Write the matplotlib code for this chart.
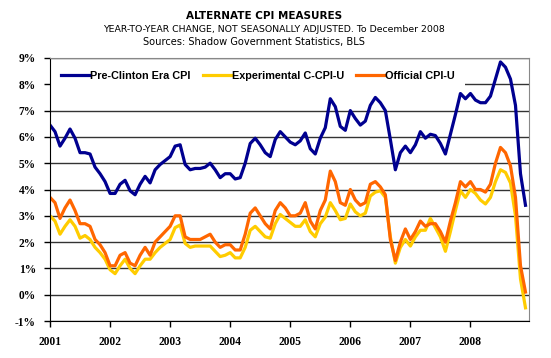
import matplotlib
matplotlib.use('Agg')
import matplotlib.pyplot as plt

# monthly year-to-year change, Jan 2001 .. Dec 2008
years = ['2001', '2002', '2003', '2004', '2005', '2006', '2007', '2008']

pre_clinton = [6.45, 6.2, 5.65, 5.95, 6.3, 5.95, 5.4, 5.4, 5.35, 4.85, 4.6, 4.3,
               3.85, 3.85, 4.2, 4.35, 3.95, 3.8, 4.2, 4.5, 4.25, 4.75, 4.95, 5.1,
               5.25, 5.65, 5.7, 4.95, 4.75, 4.8, 4.8, 4.85, 5.0, 4.75, 4.45, 4.6,
               4.6, 4.4, 4.45, 5.0, 5.75, 5.95, 5.7, 5.4, 5.25, 5.9, 6.2, 6.0,
               5.8, 5.7, 5.85, 6.15, 5.55, 5.35, 5.95, 6.35, 7.45, 7.15, 6.4, 6.25,
               7.0, 6.7, 6.45, 6.6, 7.2, 7.5, 7.3, 7.0, 5.9, 4.75, 5.4, 5.65,
               5.4, 5.7, 6.2, 5.95, 6.1, 6.05, 5.75, 5.35, 6.1, 6.85, 7.65, 7.45,
               7.65, 7.4, 7.3, 7.3, 7.55, 8.2, 8.85, 8.65, 8.2, 7.2, 4.6, 3.4]

chained = [3.0, 2.8, 2.3, 2.6, 2.85, 2.6, 2.15, 2.25, 2.1, 1.8, 1.6, 1.35,
           0.95, 0.8, 1.1, 1.35, 1.0, 0.8, 1.1, 1.35, 1.35, 1.6, 1.8, 1.95,
           2.1, 2.55, 2.65, 1.95, 1.8, 1.85, 1.85, 1.85, 1.85, 1.65, 1.45, 1.5,
           1.6, 1.4, 1.4, 1.8, 2.45, 2.6, 2.4, 2.2, 2.15, 2.7, 3.05, 2.9,
           2.75, 2.6, 2.6, 2.85, 2.4, 2.2, 2.7, 2.95, 3.5, 3.2, 2.85, 2.9,
           3.45, 3.15, 3.0, 3.1, 3.75, 3.9, 3.95, 3.7, 2.2, 1.2, 1.8, 2.1,
           1.85, 2.2, 2.45, 2.45, 2.9, 2.55, 2.2, 1.65, 2.4, 3.2, 3.95, 3.7,
           4.0, 3.85, 3.6, 3.45, 3.7, 4.3, 4.75, 4.65, 4.25, 3.0, 0.6, -0.5]

official = [3.7, 3.5, 2.9, 3.3, 3.6, 3.2, 2.7, 2.7, 2.6, 2.1, 1.9, 1.6,
            1.1, 1.1, 1.5, 1.6, 1.2, 1.1, 1.5, 1.8, 1.5, 2.0, 2.2, 2.4,
            2.6, 3.0, 3.0, 2.2, 2.1, 2.1, 2.1, 2.2, 2.3, 2.0, 1.8, 1.9,
            1.9, 1.7, 1.7, 2.3, 3.1, 3.3, 3.0, 2.7, 2.5, 3.2, 3.5, 3.3,
            3.0, 3.0, 3.1, 3.5, 2.8, 2.5, 3.2, 3.6, 4.7, 4.3, 3.5, 3.4,
            4.0, 3.6, 3.4, 3.5, 4.2, 4.3, 4.1, 3.8, 2.1, 1.3, 2.0, 2.5,
            2.1, 2.4, 2.8, 2.6, 2.7, 2.7, 2.4, 2.0, 2.8, 3.5, 4.3, 4.1,
            4.3, 4.0, 4.0, 3.9, 4.2, 5.0, 5.6, 5.4, 4.9, 3.7, 1.1, 0.1]

y_ticks = [-1, 0, 1, 2, 3, 4, 5, 6, 7, 8, 9]
y_labels = ['-1%', '0%', '1%', '2%', '3%', '4%', '5%', '6%', '7%', '8%', '9%']

months = list(range(len(official)))

fig = plt.figure(figsize=(5.51, 3.58), dpi=100)
ax = fig.add_axes([50/551, 1-321/358, 479/551, 263/358])

lw = 2.3
ax.plot(months, pre_clinton, color='#000090', lw=lw, label='Pre-Clinton Era CPI')
ax.plot(months, chained, color='#FFCC00', lw=lw, label='Experimental C-CPI-U')
ax.plot(months, official, color='#FF6600', lw=lw, label='Official CPI-U')

ax.set_xlim(0, 95.7)
ax.set_ylim(-1, 9)
ax.set_yticks(y_ticks)
ax.set_yticklabels(y_labels)
ax.set_xticks([12*k for k in range(len(years))])
ax.set_xticklabels(years)

ax.grid(axis='y', color='#333333', lw=1.0)
ax.set_axisbelow(True)
for lab in ax.get_xticklabels() + ax.get_yticklabels():
    lab.set_family('Liberation Serif')
    lab.set_fontweight('bold')
    lab.set_fontsize(8.3)
ax.tick_params(axis='y', direction='out', length=4, width=1, pad=6)
ax.tick_params(axis='x', direction='out', length=4, width=1, pad=7)

ax.spines['left'].set_color('black')
ax.spines['bottom'].set_color('black')
ax.spines['top'].set_color('#888888')
ax.spines['right'].set_color('#888888')

leg = ax.legend(loc='upper left', bbox_to_anchor=(-0.01, 1.012), ncol=3,
                frameon=True, facecolor='white', edgecolor='none', framealpha=1,
                fancybox=False, borderpad=1.0, handlelength=2.68,
                handletextpad=0.0, columnspacing=1.08,
                prop={'family': 'Liberation Sans', 'weight': 'bold', 'size': 7.8})
leg.set_zorder(2.4)

fig.text(264/551, 1-16/358, 'ALTERNATE CPI MEASURES', ha='center', va='center',
         fontsize=7.5, fontweight='bold', family='DejaVu Sans')
fig.text(274/551, 1-30/358, 'YEAR-TO-YEAR CHANGE, NOT SEASONALLY ADJUSTED. To December 2008',
         ha='center', va='center', fontsize=6.75, family='DejaVu Sans')
fig.text(254/551, 1-42.5/358, 'Sources: Shadow Government Statistics, BLS',
         ha='center', va='center', fontsize=7.15, family='DejaVu Sans')

fig.savefig('out.png', dpi=100)
